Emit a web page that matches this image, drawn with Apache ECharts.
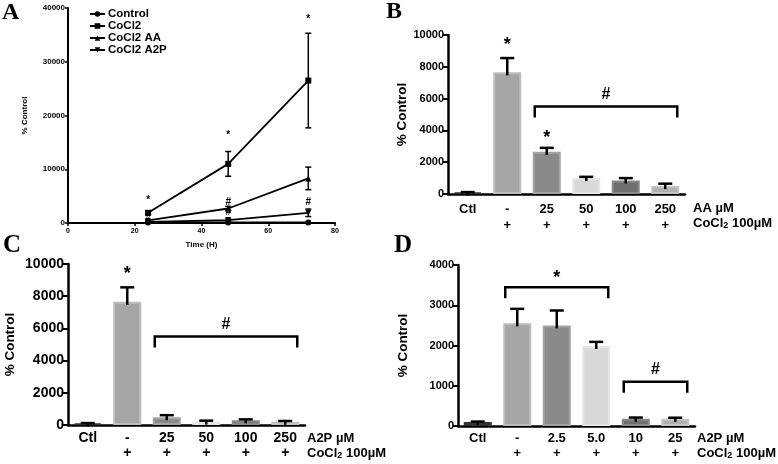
<!DOCTYPE html>
<html><head><meta charset="utf-8">
<script src="https://cdn.jsdelivr.net/npm/echarts@6/dist/echarts.min.js"></script>
<style>html,body{margin:0;padding:0;background:#fff}#c{width:778px;height:464px}</style>
</head><body><div id="c"></div>
<script>
// ---------- Panel A (time course) ----------
const aTimes = [24, 48, 72];
const aNames = ['Control', 'CoCl2', 'CoCl2 AA', 'CoCl2 A2P'];
const aControl = [100, 100, 100];
const aControlErr = [0, 0, 0];
const aCoCl2 = [1900, 11000, 26500];
const aCoCl2Err = [300, 2300, 8800];
const aAA = [500, 2700, 8300];
const aAAErr = [150, 400, 2100];
const aA2P = [200, 550, 1900];
const aA2PErr = [100, 200, 700];
const aMarks = [[24, 4300, '*'], [48, 16300, '*'], [72, 38000, '*'], [24, 900, '#'], [48, 3800, '#'], [48, 2000, '#'], [72, 3900, '#']];

// ---------- Panel B (AA) ----------
const bCats = ['Ctl', '-', '25', '50', '100', '250'];
const bPlus = ['', '+', '+', '+', '+', '+'];
const bVals = [100, 7650, 2650, 1000, 850, 500];
const bErr = [20, 900, 250, 80, 150, 150];
const bStars = [[1, 9400, '*'], [2, 3500, '*']];
const bBrackets = [[2, 5, 5500, '#']];

// ---------- Panel C (A2P) ----------
const cCats = ['Ctl', '-', '25', '50', '100', '250'];
const cPlus = ['', '+', '+', '+', '+', '+'];
const cVals = [100, 7650, 480, 210, 290, 200];
const cErr = [20, 900, 130, 60, 60, 50];
const cStars = [[1, 9400, '*']];
const cBrackets = [[2, 5, 5500, '#']];

// ---------- Panel D (A2P low dose) ----------
const dCats = ['Ctl', '-', '2.5', '5.0', '10', '25'];
const dPlus = ['', '+', '+', '+', '+', '+'];
const dVals = [100, 2550, 2500, 1990, 180, 180];
const dErr = [10, 360, 370, 100, 30, 25];
const dStars = [];
const dBrackets = [[1, 3, 3450, '*'], [4, 5, 1100, '#']];

const FONT = '"Liberation Sans", Arial, sans-serif';
const barFill = ['#2b2b2b', '#a6a6a6', '#8a8a8a', '#d9d9d9', '#707070', '#b0b0b0'];
const barEdge = ['#333333', '#bdbdbd', '#a3a3a3', '#e6e6e6', '#8a8a8a', '#c4c4c4'];
const plain = v => String(v);

function barErrRender(params, api) {
  const i = api.value(0), v = api.value(1), e = api.value(2);
  const p0 = api.coord([i, v]), p1 = api.coord([i, v + e]);
  const st = { stroke: '#000', lineWidth: 2.5 };
  return { type: 'group', children: [
    { type: 'line', shape: { x1: p0[0], y1: p0[1] + 3, x2: p1[0], y2: p1[1] }, style: st },
    { type: 'line', shape: { x1: p1[0] - 7, y1: p1[1], x2: p1[0] + 7, y2: p1[1] }, style: st }
  ]};
}
function makeBracketRender(list) {
  return function (params, api) {
    const a = api.value(0), b = api.value(1), y = api.value(2);
    const pa = api.coord([a, y]), pb = api.coord([b, y]);
    const x1 = pa[0] - 12, x2 = pb[0] + 12, yy = pa[1];
    const st = { stroke: '#000', lineWidth: 2.5, fill: null };
    const txt = list[params.dataIndex][3];
    return { type: 'group', children: [
      { type: 'polyline', shape: { points: [[x1, yy + 11], [x1, yy], [x2, yy], [x2, yy + 11]] }, style: st },
      { type: 'text', x: (x1 + x2) / 2, y: yy - (txt === '*' ? 0 : 4), style: { text: txt, textAlign: 'center', textVerticalAlign: 'bottom', font: 'bold ' + (txt === '*' ? 18 : 16) + 'px ' + FONT, fill: '#000' } }
    ]};
  };
}
function makeTextRender(list, size) {
  return function (params, api) {
    const p = api.coord([api.value(0), api.value(1)]);
    return { type: 'text', x: p[0], y: p[1], style: { text: list[params.dataIndex][2], textAlign: 'center', textVerticalAlign: 'middle', font: 'bold ' + size + 'px ' + FONT, fill: '#000' } };
  };
}
function lineErrRender(params, api) {
  const x = api.value(0), v = api.value(1), e = api.value(2);
  if (!e) return null;
  const pt = api.coord([x, v + e]), pb = api.coord([x, v - e]);
  const st = { stroke: '#000', lineWidth: 1.5 };
  return { type: 'group', children: [
    { type: 'line', shape: { x1: pt[0], y1: pt[1], x2: pb[0], y2: pb[1] }, style: st },
    { type: 'line', shape: { x1: pt[0] - 3, y1: pt[1], x2: pt[0] + 3, y2: pt[1] }, style: st },
    { type: 'line', shape: { x1: pb[0] - 3, y1: pb[1], x2: pb[0] + 3, y2: pb[1] }, style: st }
  ]};
}

const grids = [
  { left: 68, top: 8, width: 267, height: 215 },
  { left: 448, top: 35, width: 237, height: 159 },
  { left: 68, top: 264, width: 237, height: 161 },
  { left: 458, top: 265, width: 237, height: 161 }
];

function catAxis(gi, cats, plus, fs, margin, lh) {
  return {
    type: 'category', gridIndex: gi, data: cats.map((c, i) => c + '\n' + plus[i]),
    axisLine: { lineStyle: { color: '#000', width: 2.5 } },
    axisTick: { alignWithLabel: true, length: 5, lineStyle: { color: '#000', width: 2 } },
    axisLabel: { color: '#000', fontFamily: FONT, fontWeight: 'bold', fontSize: fs, margin: margin, lineHeight: lh, interval: 0 }
  };
}
function valAxis(gi, max, interval, fs, gap) {
  return {
    type: 'value', gridIndex: gi, min: 0, max: max, interval: interval,
    name: '% Control', nameLocation: 'middle', nameGap: gap, nameRotate: 90,
    nameTextStyle: { color: '#000', fontFamily: FONT, fontWeight: 'bold', fontSize: 13.5 },
    splitLine: { show: false },
    axisLine: { show: true, lineStyle: { color: '#000', width: 2.5 } },
    axisTick: { show: true, length: 5, lineStyle: { color: '#000', width: 2 } },
    axisLabel: { color: '#000', fontFamily: FONT, fontWeight: 'bold', fontSize: fs, margin: 4, formatter: plain }
  };
}

function barPanel(gi, vals, errs, stars, brackets) {
  return [
    { type: 'bar', xAxisIndex: gi, yAxisIndex: gi, barWidth: 28, silent: true,
      data: vals.map((v, i) => ({ value: v, itemStyle: { color: barFill[i], borderColor: barEdge[i], borderWidth: 2 } })) },
    { type: 'custom', xAxisIndex: gi, yAxisIndex: gi, renderItem: barErrRender, z: 5, silent: true,
      data: vals.map((v, i) => [i, v, errs[i]]) },
    { type: 'custom', xAxisIndex: gi, yAxisIndex: gi, renderItem: makeTextRender(stars, 18), z: 6, silent: true,
      data: stars.map(s => [s[0], s[1]]) },
    { type: 'custom', xAxisIndex: gi, yAxisIndex: gi, renderItem: makeBracketRender(brackets), z: 6, silent: true,
      data: brackets.map(b => [b[0], b[1], b[2]]) }
  ];
}

const triDown = 'path://M0,0L10,0L5,9Z';
const aSym = ['circle', 'rect', 'triangle', triDown];
const aVals = [aControl, aCoCl2, aAA, aA2P];
const aErrs = [aControlErr, aCoCl2Err, aAAErr, aA2PErr];

const series = [];
aNames.forEach((n, k) => {
  series.push({ type: 'line', name: n, xAxisIndex: 0, yAxisIndex: 0, symbol: aSym[k], symbolSize: 6,
    lineStyle: { color: '#000', width: 1.8 }, itemStyle: { color: '#000' }, silent: true,
    data: aTimes.map((t, i) => [t, aVals[k][i]]) });
  series.push({ type: 'custom', xAxisIndex: 0, yAxisIndex: 0, renderItem: lineErrRender, z: 4, silent: true,
    data: aTimes.map((t, i) => [t, aVals[k][i], aErrs[k][i]]) });
});
series.push({ type: 'custom', xAxisIndex: 0, yAxisIndex: 0, renderItem: makeTextRender(aMarks, 10), z: 6, silent: true,
  data: aMarks.map(m => [m[0], m[1]]) });
series.push(...barPanel(1, bVals, bErr, bStars, bBrackets));
series.push(...barPanel(2, cVals, cErr, cStars, cBrackets));
series.push(...barPanel(3, dVals, dErr, dStars, dBrackets));

function rowLabel(x, y, first) {
  return [
    { type: 'text', left: x, top: y - 7, style: { text: first, font: 'bold 13px ' + FONT, fill: '#000' } },
    { type: 'text', left: x, top: y + 8, style: {
      text: '{a|CoCl}{s|2}{a| 100µM}',
      rich: { a: { font: 'bold 13px ' + FONT, fill: '#000', verticalAlign: 'bottom' }, s: { font: 'bold 9px ' + FONT, fill: '#000', padding: [6, 0, 0, 0], verticalAlign: 'bottom' } } } }
  ];
}
function letter(t, x, y, fs) {
  return { type: 'text', left: x, top: y, style: { text: t, font: 'bold ' + fs + 'px "Liberation Serif", "DejaVu Serif", serif', fill: '#000' } };
}

const option = {
  animation: false,
  backgroundColor: '#fff',
  grid: grids,
  legend: {
    left: 84, top: 3, orient: 'vertical', itemGap: 0, itemWidth: 15, itemHeight: 7,
    data: aNames, selectedMode: false,
    textStyle: { color: '#000', fontFamily: FONT, fontWeight: 'bold', fontSize: 11.5, padding: [0, 0, 0, -2] }
  },
  xAxis: [
    { type: 'value', gridIndex: 0, min: 0, max: 80, interval: 20,
      name: 'Time (H)', nameLocation: 'middle', nameGap: 18,
      nameTextStyle: { color: '#000', fontFamily: FONT, fontWeight: 'bold', fontSize: 8 },
      splitLine: { show: false },
      axisLine: { lineStyle: { color: '#000', width: 2 } },
      axisTick: { length: 3, lineStyle: { color: '#000', width: 1.5 } },
      axisLabel: { color: '#000', fontFamily: FONT, fontWeight: 'bold', fontSize: 7, margin: 5, formatter: plain } },
    catAxis(1, bCats, bPlus, 13, 7, 16),
    catAxis(2, cCats, cPlus, 14, 6, 15),
    catAxis(3, dCats, dPlus, 13, 5, 15)
  ],
  yAxis: [
    { type: 'value', gridIndex: 0, min: 0, max: 40000, interval: 10000,
      name: '% Control', nameLocation: 'middle', nameGap: 39, nameRotate: 90,
      nameTextStyle: { color: '#000', fontFamily: FONT, fontWeight: 'bold', fontSize: 8 },
      splitLine: { show: false },
      axisLine: { show: true, lineStyle: { color: '#000', width: 2 } },
      axisTick: { show: true, length: 3, lineStyle: { color: '#000', width: 1.5 } },
      axisLabel: { color: '#000', fontFamily: FONT, fontWeight: 'bold', fontSize: 8, margin: 3, formatter: plain } },
    valAxis(1, 10000, 2000, 11, 39),
    valAxis(2, 10000, 2000, 14, 51),
    valAxis(3, 4000, 1000, 11, 48)
  ],
  graphic: [
    letter('A', 2, 1, 24), letter('B', 386, 0, 24), letter('C', 3, 233, 25), letter('D', 394, 233, 25),
    ...rowLabel(693, 209, 'AA µM'),
    ...rowLabel(307, 439, 'A2P µM'),
    ...rowLabel(697, 439, 'A2P µM')
  ],
  series: series
};
echarts.init(document.getElementById('c'), null, { renderer: 'canvas' }).setOption(option);
</script>
</body></html>
